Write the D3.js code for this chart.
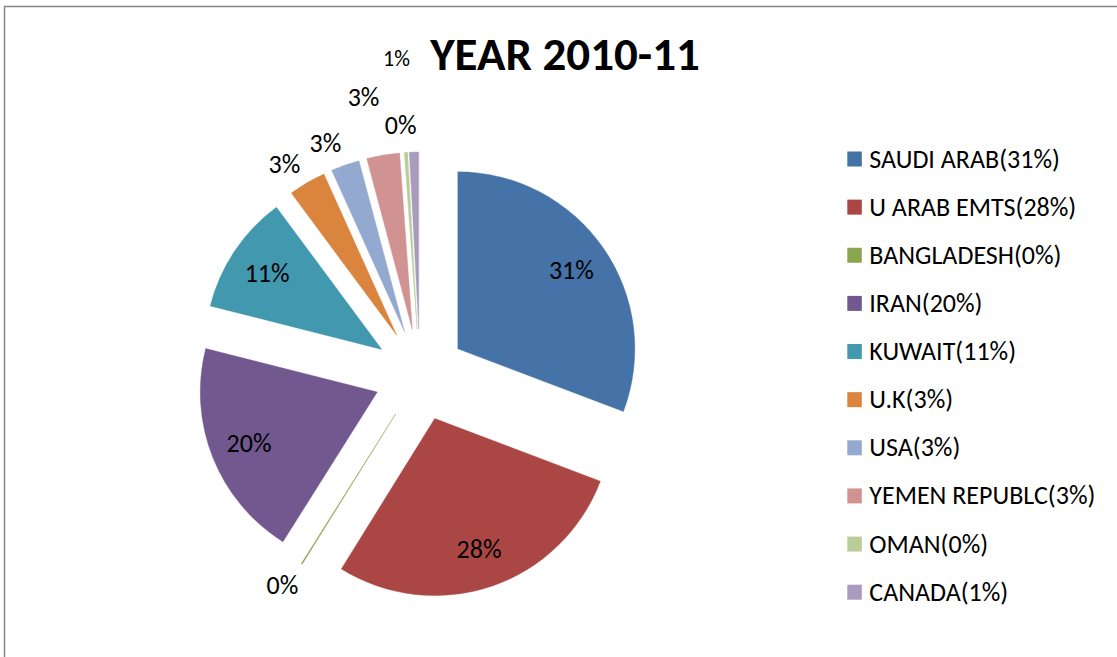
<!DOCTYPE html>
<html>
<head>
<meta charset="utf-8">
<script src="https://cdn.jsdelivr.net/npm/d3@7"></script>
<style>
  html, body { margin: 0; padding: 0; background: #fff; }
  svg { display: block; }
  text { font-family: Carlito, Lato, "Open Sans", sans-serif; fill: #000; }
</style>
</head>
<body>
<svg id="chart" width="1117" height="657"></svg>
<script>
// Export share by destination, year 2010-11 (per cent of total)
const countries = ["SAUDI ARAB", "U ARAB EMTS", "BANGLADESH", "IRAN", "KUWAIT",
                   "U.K", "USA", "YEMEN REPUBLC", "OMAN", "CANADA"];
const shares = [30.75, 28.1, 0.1, 20.0, 10.9, 3.4, 2.6, 3.0, 0.3, 0.85];
const colors = ["#4572A7", "#AA4643", "#89A54E", "#71588F", "#4198AF",
                "#DB843D", "#93A9CF", "#D19392", "#B9CD96", "#A99BBD"];
const title = "YEAR 2010-11";

// label placement for the thin slices: ring = stagger step outward, turn = degrees of rotation
const labelRing = [0, 0, 0, 0, 0, 0, 0, 1, 0, 2];
const labelTurn = [0, 0, 1.5, 0, 0, -2.8, -3.1, -2.3, -1.0, -3.2];

const W = 1117, H = 657;
const svg = d3.select("#chart");

// chart frame (top and left edges visible)
svg.append("rect")
  .attr("x", 4.5).attr("y", 6.5)
  .attr("width", W + 20).attr("height", H + 20)
  .attr("fill", "none").attr("stroke", "#868686").attr("stroke-width", 1.5);

const cx = 420, cy = 375, R = 177, explode = 46;

const total = d3.sum(shares);
const pie = d3.pie().sort(null).value(d => d.v).startAngle(0).endAngle(2 * Math.PI);
const data = pie(countries.map((c, i) => ({ name: c, v: shares[i], i })));
const arc = d3.arc().innerRadius(0).outerRadius(R);
const fmt = d3.format(".0%");

const g = svg.append("g").attr("transform", `translate(${cx},${cy})`);

data.forEach(d => {
  const mid = (d.startAngle + d.endAngle) / 2;
  d.mid = mid;
  d.ox = Math.sin(mid) * explode;
  d.oy = -Math.cos(mid) * explode;
});

g.selectAll("path.slice")
  .data(data)
  .join("path")
  .attr("class", "slice")
  .attr("transform", d => `translate(${d.ox},${d.oy})`)
  .attr("d", arc)
  .attr("fill", d => colors[d.data.i])
  .attr("stroke", d => colors[d.data.i])
  .attr("stroke-width", 0.4);

// value labels: inside the large slices, outside the thin ones
function labelPos(d) {
  const i = d.data.i, p = d.data.v / total;
  const a = d.mid + labelTurn[i] * Math.PI / 180;
  const rr = p > 0.05 ? R * 0.78 : R + 28 + labelRing[i] * 33;
  return [d.ox + Math.sin(a) * rr, d.oy - Math.cos(a) * rr];
}

g.selectAll("text.val")
  .data(data)
  .join("text")
  .attr("class", "val")
  .attr("text-anchor", "middle")
  .attr("dominant-baseline", "central")
  .attr("font-size", d => d.data.name === "CANADA" ? 22 : 26)
  .attr("x", d => labelPos(d)[0])
  .attr("y", d => labelPos(d)[1])
  .text(d => fmt(d.data.v / total));

// title
svg.append("text")
  .attr("x", 565).attr("y", 70)
  .attr("text-anchor", "middle")
  .attr("font-size", 47).attr("font-weight", "bold")
  .text(title);

// legend
const legendY = d3.scalePoint().domain(countries).range([158.5, 591.7]);
const rows = svg.append("g").selectAll("g.row")
  .data(countries)
  .join("g")
  .attr("class", "row")
  .attr("transform", d => `translate(847.3,${legendY(d)})`);
rows.append("rect")
  .attr("x", 0).attr("y", -7).attr("width", 14.5).attr("height", 15)
  .attr("fill", (d, i) => colors[i]);
rows.append("text")
  .attr("x", 22).attr("y", 0)
  .attr("dominant-baseline", "central")
  .attr("font-size", 26)
  .text((d, i) => `${d}(${fmt(shares[i] / total)})`);
</script>
</body>
</html>
